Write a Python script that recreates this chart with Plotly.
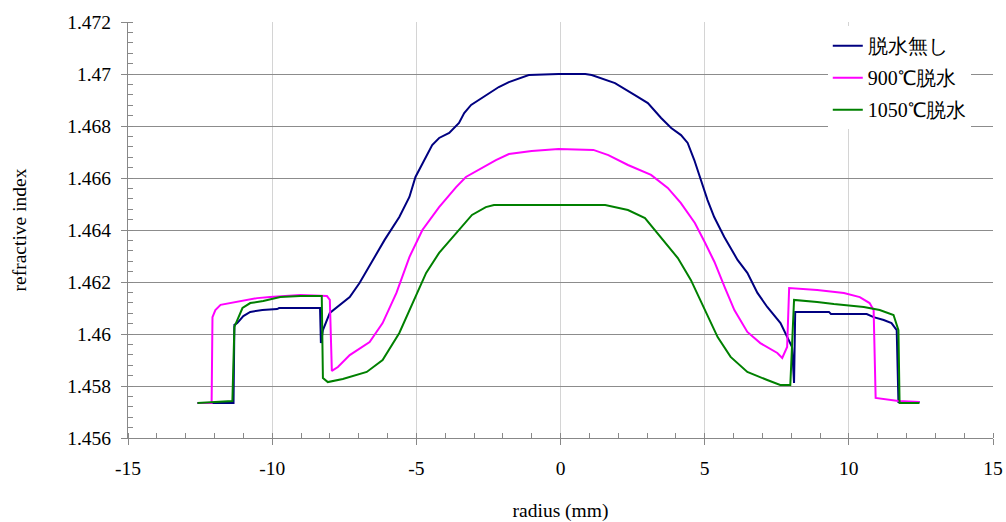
import plotly.graph_objects as go

# 脱水無し (no dehydration)
x_none = [-12.59, -11.34, -11.31, -11.21, -11.00, -10.76, -10.34, -9.83, -9.76, -8.34, -8.31, -8.24,
          -8.00, -7.66, -7.31, -6.97, -6.45, -6.10, -5.59, -5.24, -5.03, -4.72, -4.45, -4.21, -3.86,
          -3.52, -3.34, -3.10, -2.66, -2.14, -1.79, -1.28, -1.10, -0.07, 0.86, 1.08, 1.89, 2.58, 3.03,
          3.49, 3.84, 4.18, 4.41, 4.64, 4.87, 5.10, 5.33, 5.68, 6.14, 6.48, 6.83, 7.17, 7.63, 7.86,
          8.03, 8.10, 8.14, 9.31, 9.38, 10.62, 10.86, 11.21, 11.48, 11.66, 11.72, 12.45]
y_none = [1.45735, 1.45735, 1.46035, 1.46042, 1.46069, 1.46085, 1.46092, 1.46096, 1.46100, 1.46100,
          1.45965, 1.46015, 1.46081, 1.46112, 1.46142, 1.46196, 1.46296, 1.46362, 1.46450, 1.46527,
          1.46604, 1.46669, 1.46727, 1.46754, 1.46773, 1.46812, 1.46850, 1.46881, 1.46912, 1.46950,
          1.46969, 1.46988, 1.46996, 1.47000, 1.47000, 1.46996, 1.46965, 1.46919, 1.46888, 1.46831,
          1.46792, 1.46765, 1.46735, 1.46669, 1.46592, 1.46515, 1.46450, 1.46373, 1.46285, 1.46235,
          1.46158, 1.46104, 1.46042, 1.45988, 1.45950, 1.45812, 1.46085, 1.46085, 1.46077, 1.46077,
          1.46065, 1.46054, 1.46042, 1.46015, 1.45738, 1.45738]

# 900℃脱水
x_900 = [-12.59, -12.10, -12.07, -11.97, -11.79, -11.45, -11.00, -10.52, -10.07, -9.03, -8.10, -8.00,
         -7.93, -7.72, -7.31, -6.62, -6.17, -5.69, -5.24, -4.79, -4.21, -3.62, -3.28, -2.72, -2.24,
         -1.79, -1.00, -0.07, 1.14, 1.66, 2.34, 3.14, 3.72, 4.17, 4.66, 5.00, 5.34, 5.69, 6.03, 6.48,
         6.93, 7.52, 7.69, 7.86, 7.93, 8.90, 9.83, 10.38, 10.72, 10.86, 10.93, 11.72, 12.45]
y_900 = [1.45735, 1.45735, 1.46065, 1.46092, 1.46112, 1.46119, 1.46131, 1.46138, 1.46142, 1.46150,
         1.46146, 1.46131, 1.45858, 1.45873, 1.45919, 1.45969, 1.46042, 1.46158, 1.46296, 1.46400,
         1.46488, 1.46565, 1.46604, 1.46638, 1.46669, 1.46692, 1.46704, 1.46712, 1.46708, 1.46688,
         1.46650, 1.46612, 1.46562, 1.46504, 1.46427, 1.46354, 1.46277, 1.46181, 1.46092, 1.46008,
         1.45965, 1.45927, 1.45908, 1.45950, 1.46177, 1.46169, 1.46158, 1.46142, 1.46119, 1.46092,
         1.45754, 1.45742, 1.45738]

# 1050℃脱水
x_1050 = [-12.59, -11.38, -11.31, -11.21, -11.03, -10.76, -10.31, -9.72, -9.03, -8.28, -8.24, -8.07,
          -7.55, -6.72, -6.17, -5.59, -5.14, -4.66, -4.21, -3.62, -3.07, -2.59, -2.31, 1.55, 2.34,
          2.93, 3.48, 4.07, 4.52, 5.00, 5.45, 5.90, 6.48, 7.17, 7.62, 7.97, 8.10, 8.90, 9.48, 10.52,
          11.07, 11.55, 11.72, 11.76, 12.45]
y_1050 = [1.45735, 1.45742, 1.46027, 1.46054, 1.46100, 1.46119, 1.46127, 1.46142, 1.46146, 1.46146,
          1.45831, 1.45815, 1.45827, 1.45854, 1.45900, 1.46004, 1.46119, 1.46235, 1.46312, 1.46388,
          1.46458, 1.46488, 1.46496, 1.46496, 1.46477, 1.46446, 1.46373, 1.46292, 1.46208, 1.46092,
          1.45988, 1.45912, 1.45854, 1.45823, 1.45804, 1.45804, 1.46131, 1.46123, 1.46115, 1.46104,
          1.46092, 1.46073, 1.46015, 1.45735, 1.45735]

names = ["脱水無し", "900℃脱水", "1050℃脱水"]
colors = ["#000080", "#ff00ff", "#008000"]

x_ticks = [-15, -10, -5, 0, 5, 10, 15]
x_labels = ["-15", "-10", "-5", "0", "5", "10", "15"]
y_ticks = [1.456, 1.458, 1.46, 1.462, 1.464, 1.466, 1.468, 1.47, 1.472]
y_labels = ["1.456", "1.458", "1.46", "1.462", "1.464", "1.466", "1.468", "1.47", "1.472"]

FONT = "Times New Roman"
FS = 19.5

fig = go.Figure()
for i, (xs, ys) in enumerate([(x_none, y_none), (x_900, y_900), (x_1050, y_1050)]):
    fig.add_trace(go.Scatter(x=xs, y=ys, mode="lines", name=names[i],
                             legendgroup=str(i),
                             line=dict(color=colors[i], width=2)))

fig.update_layout(
    width=1006, height=522,
    margin=dict(l=128, r=13, t=22, b=84),
    paper_bgcolor="white", plot_bgcolor="white",
    font=dict(family=FONT, size=FS, color="black"),
    showlegend=True,
    legend=dict(x=0.809, y=0.99, xanchor="left", yanchor="top",
                bgcolor="white", borderwidth=0,
                font=dict(family=FONT, size=20, color="black"),
                tracegroupgap=3, traceorder="grouped"),
    xaxis=dict(range=[-15, 15], tickvals=x_ticks, ticktext=x_labels,
               tickfont=dict(family=FONT, size=FS, color="black"),
               ticklabelstandoff=7,
               showgrid=True, gridcolor="#d4d4d4", gridwidth=1,
               showline=True, linecolor="#888888", linewidth=1,
               zeroline=False, ticks="outside", ticklen=6, tickcolor="#888888",
               automargin=False,
               minor=dict(dtick=1, ticks="inside", ticklen=5, tickcolor="#888888", showgrid=False),
               title=dict(text="radius (mm)", standoff=36,
                          font=dict(family=FONT, size=FS, color="black"))),
    yaxis=dict(range=[1.456, 1.472], tickvals=y_ticks, ticktext=y_labels,
               tickfont=dict(family=FONT, size=FS, color="black"),
               ticklabelstandoff=6,
               showgrid=True, gridcolor="#8c8c8c", gridwidth=1,
               showline=True, linecolor="#888888", linewidth=1,
               zeroline=False, ticks="outside", ticklen=6, tickcolor="#888888",
               automargin=False,
               minor=dict(dtick=0.0004, tick0=1.456, ticks="inside", ticklen=5,
                          tickcolor="#888888", showgrid=False),
               title=dict(text="refractive index", standoff=35,
                          font=dict(family=FONT, size=FS, color="black"))),
)

fig.write_html("out.html")
